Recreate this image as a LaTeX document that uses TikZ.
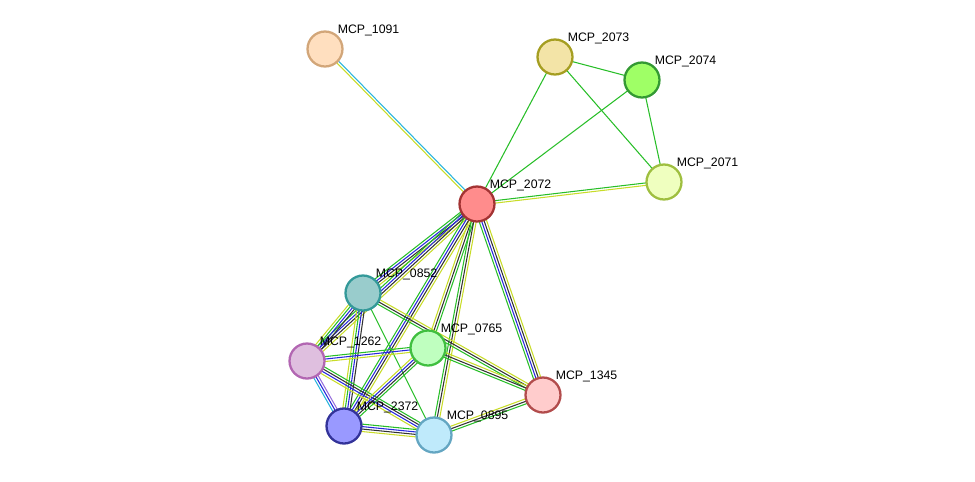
\documentclass[tikz,border=0pt]{standalone}
\usepackage{fontspec}
\setmainfont{Liberation Sans}
\usetikzlibrary{calc,backgrounds}
\tikzset{prot/.style={circle,draw,line width=1.3pt,minimum size=7mm,inner sep=0pt},
         lbl/.style={font=\fontsize{7}{8}\selectfont,inner sep=1pt,label distance=-2pt}
}
\definecolor{tm}{RGB}{200,220,40}
\definecolor{nb}{RGB}{40,190,40}
\definecolor{co}{RGB}{40,40,220}
\definecolor{cx}{RGB}{50,50,50}
\definecolor{db}{RGB}{40,180,220}
\definecolor{ex}{RGB}{150,110,220}
% multi-coloured edge: from, to, count, colours
\newcommand\stredge[4]{%
  \foreach[count=\i] \c in {#4}{%
    \pgfmathsetmacro\o{(\i-(#3+1)/2)*1.4}%
    \draw[\c,line width=0.6pt] ($(#1)!\o pt!90:(#2)$) -- ($(#2)!\o pt!-90:(#1)$);
  }}

\begin{document}
\begin{tikzpicture}[x=0.02cm,y=-0.02cm]
\useasboundingbox (0,0) rectangle (975,481);
\node[prot,fill=red!45,draw=red!55!black!80,label={[lbl]above right:MCP\_2072}] (n2072) at (477,204) {};
\node[prot,fill=orange!25,draw=brown!70,label={[lbl]above right:MCP\_1091}] (n1091) at (325,49) {};
\node[prot,fill=yellow!50!brown!40,draw=olive!80,label={[lbl]above right:MCP\_2073}] (n2073) at (555,57) {};
\node[prot,fill=green!50!lime!60,draw=green!50!black!80,label={[lbl]above right:MCP\_2074}] (n2074) at (642,80) {};
\node[prot,fill=lime!25,draw=lime!50!gray,label={[lbl]above right:MCP\_2071}] (n2071) at (664,182) {};
\node[prot,fill=teal!40,draw=teal!80,label={[lbl]above right:MCP\_0852}] (n0852) at (363,293) {};
\node[prot,fill=green!25,draw=green!50!gray,label={[lbl]above right:MCP\_0765}] (n0765) at (428,348) {};
\node[prot,fill=violet!25,draw=violet!60,label={[lbl]above right:MCP\_1262}] (n1262) at (307,361) {};
\node[prot,fill=blue!40,draw=blue!50!black!80,label={[lbl]above right:MCP\_2372}] (n2372) at (344,426) {};
\node[prot,fill=cyan!25,draw=cyan!50!gray,label={[lbl]above right:MCP\_0895}] (n0895) at (434,435) {};
\node[prot,fill=red!20,draw=red!40!gray,label={[lbl]above right:MCP\_1345}] (n1345) at (543,395) {};
\begin{scope}[on background layer]
\stredge{n2072}{n1091}{2}{db,tm}
\stredge{n2072}{n2073}{1}{nb}
\stredge{n2072}{n2074}{1}{nb}
\stredge{n2073}{n2074}{1}{nb}
\stredge{n2073}{n2071}{1}{nb}
\stredge{n2074}{n2071}{1}{nb}
\stredge{n2072}{n2071}{2}{tm,nb}
\stredge{n2072}{n0852}{4}{nb,co,cx,tm}
\stredge{n2072}{n0765}{3}{tm,cx,nb}
\stredge{n2072}{n1262}{4}{nb,co,cx,tm}
\stredge{n2072}{n2372}{4}{nb,co,cx,tm}
\stredge{n2072}{n0895}{3}{nb,cx,tm}
\stredge{n2072}{n1345}{4}{nb,co,cx,tm}
\stredge{n0852}{n1262}{4}{tm,nb,co,cx}
\stredge{n0852}{n2372}{4}{tm,nb,co,cx}
\stredge{n0852}{n0895}{1}{nb}
\stredge{n0852}{n1345}{3}{nb,cx,tm}
\stredge{n1262}{n0765}{3}{tm,co,nb}
\stredge{n0765}{n1345}{3}{nb,cx,tm}
\stredge{n1262}{n2372}{3}{db,co,ex}
\stredge{n1262}{n0895}{4}{tm,co,cx,nb}
\stredge{n0765}{n2372}{4}{tm,co,cx,nb}
\stredge{n2372}{n0895}{4}{tm,cx,co,nb}
\stredge{n0895}{n1345}{3}{nb,cx,tm}
\end{scope}
\end{tikzpicture}
\end{document}
